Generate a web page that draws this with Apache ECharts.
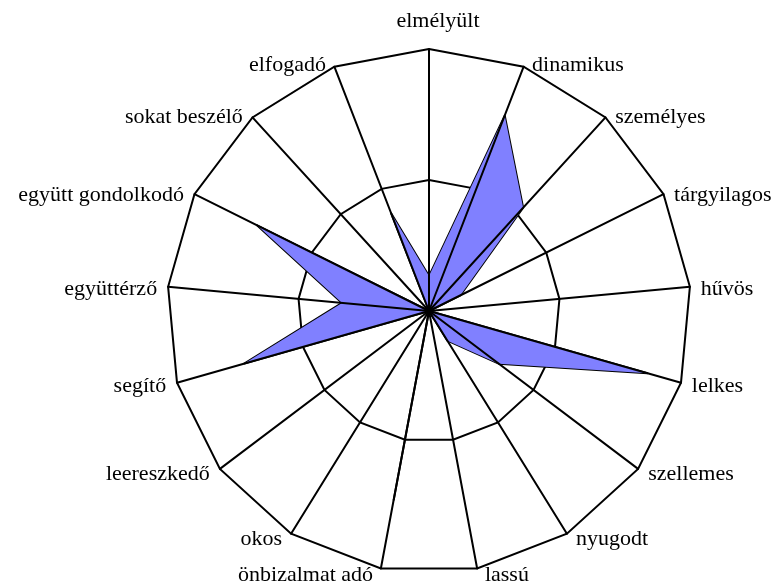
<!DOCTYPE html>
<html>
<head>
<meta charset="utf-8">
<script src="https://cdn.jsdelivr.net/npm/echarts@6/dist/echarts.min.js"></script>
<style>html,body{margin:0;padding:0;background:#fff;}#c{width:782px;height:585px;}</style>
</head>
<body>
<div id="c"></div>
<script>
// Categories listed clockwise from the top
const categories = ['elmélyült','dinamikus','személyes','tárgyilagos','hűvös','lelkes','szellemes','nyugodt','lassú','önbizalmat adó','okos','leereszkedő','segítő','együttérző','együtt gondolkodó','sokat beszélő','elfogadó'];
const values = [2, 12, 8, 2, 0, 13, 5, 2, 0, 11, 0, 0, 11, 5, 11, 0, 6];
const maxValue = 15;

// ECharts lays indicators counter-clockwise; reorder so they appear clockwise
const order = [0].concat(categories.map((_, i) => i).slice(1).reverse());
const indicator = order.map(i => ({ name: categories[i], max: maxValue, min: 0 }));
const seriesValues = order.map(i => values[i]);

const common = {
  center: [429, 311],
  radius: 262,
  startAngle: 90,
  splitNumber: 2,
  shape: 'polygon',
  indicator: indicator,
  splitArea: { show: false },
  axisTick: { show: false },
  axisLabel: { show: false }
};

const chart = echarts.init(document.getElementById('c'));
chart.setOption({
  backgroundColor: '#ffffff',
  animation: false,
  radar: [
    Object.assign({}, common, {
      z: 0,
      nameGap: 4,
      axisName: {
        color: '#000',
        fontFamily: 'Liberation Serif',
        fontSize: 22,
        padding: [5, 7, 0, 7],
        formatter: function (name) {
          return name === categories[0] ? '{t|' + name + '}' : name;
        },
        rich: {
          t: { fontFamily: 'Liberation Serif', fontSize: 22, color: '#000', padding: [0, 0, 13, 18] }
        }
      },
      axisLine: { show: false },
      splitLine: { lineStyle: { color: '#000', width: 2 } }
    }),
    Object.assign({}, common, {
      z: 3,
      axisName: { show: false },
      axisLine: { lineStyle: { color: '#000', width: 2 } },
      splitLine: { show: false }
    })
  ],
  series: [{
    type: 'radar',
    radarIndex: 0,
    z: 2,
    symbol: 'none',
    lineStyle: { color: '#000', width: 2 },
    areaStyle: { color: '#8080ff', opacity: 1 },
    data: [{ value: seriesValues }]
  }]
});
</script>
</body>
</html>
